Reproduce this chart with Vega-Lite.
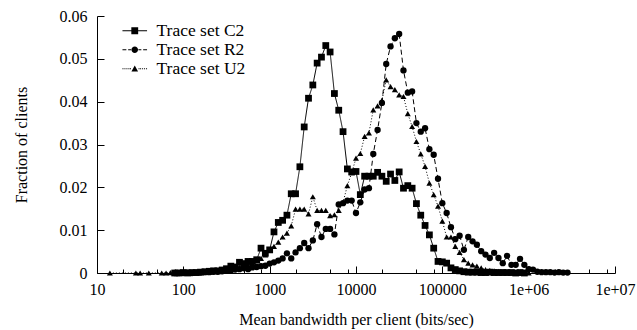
{
 "$schema": "https://vega.github.io/schema/vega-lite/v6.json",
 "width": 518, "height": 257,
 "autosize": {"type": "none"},
 "padding": {"left": 97, "top": 16, "right": 22, "bottom": 57},
 "background": "white",
 "config": {
  "view": {"stroke": null},
  "font": "Liberation Serif",
  "axis": {"labelFont": "Liberation Serif", "titleFont": "Liberation Serif", "labelFontSize": 16, "titleFontSize": 16, "titleFontWeight": "normal", "labelColor": "black", "titleColor": "black", "domainColor": "black", "tickColor": "black", "grid": false, "domainWidth": 1, "tickWidth": 1}
 },
 "data": {"values": [
  {"s":"C2","x":79.4,"y":0},{"s":"C2","x":89.1,"y":0},{"s":"C2","x":100,"y":0.0001},{"s":"C2","x":112,"y":0},{"s":"C2","x":126,"y":0.0001},{"s":"C2","x":141,"y":0.0001},{"s":"C2","x":158,"y":0.0002},{"s":"C2","x":178,"y":0.0003},{"s":"C2","x":200,"y":0.0004},{"s":"C2","x":224,"y":0.0005},{"s":"C2","x":251,"y":0.0005},{"s":"C2","x":282,"y":0.0007},{"s":"C2","x":316,"y":0.001},{"s":"C2","x":355,"y":0.0016},{"s":"C2","x":398,"y":0.0014},{"s":"C2","x":447,"y":0.0025},{"s":"C2","x":501,"y":0.0022},{"s":"C2","x":562,"y":0.0027},{"s":"C2","x":631,"y":0.0027},{"s":"C2","x":708,"y":0.0031},{"s":"C2","x":794,"y":0.0058},{"s":"C2","x":891,"y":0.0046},{"s":"C2","x":1000,"y":0.0054},{"s":"C2","x":1122,"y":0.0096},{"s":"C2","x":1259,"y":0.0118},{"s":"C2","x":1413,"y":0.0123},{"s":"C2","x":1585,"y":0.0135},{"s":"C2","x":1778,"y":0.0185},{"s":"C2","x":1995,"y":0.0185},{"s":"C2","x":2239,"y":0.0248},{"s":"C2","x":2512,"y":0.0341},{"s":"C2","x":2818,"y":0.0408},{"s":"C2","x":3162,"y":0.0439},{"s":"C2","x":3548,"y":0.049},{"s":"C2","x":3981,"y":0.0504},{"s":"C2","x":4467,"y":0.0531},{"s":"C2","x":5012,"y":0.0516},{"s":"C2","x":5623,"y":0.0419},{"s":"C2","x":6310,"y":0.038},{"s":"C2","x":7079,"y":0.033},{"s":"C2","x":7943,"y":0.0243},{"s":"C2","x":8913,"y":0.0236},{"s":"C2","x":10000,"y":0.0237},{"s":"C2","x":11220,"y":0.0183},{"s":"C2","x":12589,"y":0.0226},{"s":"C2","x":14125,"y":0.0226},{"s":"C2","x":15849,"y":0.0226},{"s":"C2","x":17783,"y":0.0235},{"s":"C2","x":19953,"y":0.0226},{"s":"C2","x":22387,"y":0.0214},{"s":"C2","x":25119,"y":0.0231},{"s":"C2","x":28184,"y":0.0216},{"s":"C2","x":31623,"y":0.0236},{"s":"C2","x":35481,"y":0.0198},{"s":"C2","x":39811,"y":0.0204},{"s":"C2","x":44668,"y":0.0198},{"s":"C2","x":50119,"y":0.0162},{"s":"C2","x":56234,"y":0.0135},{"s":"C2","x":63096,"y":0.0111},{"s":"C2","x":70795,"y":0.0089},{"s":"C2","x":79433,"y":0.0058},{"s":"C2","x":89125,"y":0.0027},{"s":"C2","x":100000,"y":0.0026},{"s":"C2","x":112202,"y":0.0023},{"s":"C2","x":125893,"y":0.0012},{"s":"C2","x":141254,"y":0.0008},{"s":"C2","x":158489,"y":0.0005},{"s":"C2","x":177828,"y":0.0003},{"s":"C2","x":199526,"y":0.0002},{"s":"C2","x":223872,"y":0.0002},{"s":"C2","x":251189,"y":0.0002},{"s":"C2","x":281838,"y":0.0001},{"s":"C2","x":316228,"y":0.0001},{"s":"C2","x":354813,"y":0.0002},{"s":"C2","x":398107,"y":0.0001},{"s":"C2","x":446684,"y":0.0001},{"s":"C2","x":501187,"y":0.0001},{"s":"C2","x":562341,"y":0.0001},{"s":"C2","x":630957,"y":0.0001},{"s":"C2","x":707946,"y":0},{"s":"C2","x":794328,"y":0.0001},{"s":"C2","x":891251,"y":0},
  {"s":"R2","x":79.4,"y":0},{"s":"R2","x":89.1,"y":0},{"s":"R2","x":100,"y":0},{"s":"R2","x":112,"y":0.0001},{"s":"R2","x":126,"y":0},{"s":"R2","x":141,"y":0.0001},{"s":"R2","x":158,"y":0.0001},{"s":"R2","x":178,"y":0.0002},{"s":"R2","x":200,"y":0.0002},{"s":"R2","x":224,"y":0.0003},{"s":"R2","x":251,"y":0.0003},{"s":"R2","x":282,"y":0.0004},{"s":"R2","x":316,"y":0.0005},{"s":"R2","x":355,"y":0.0006},{"s":"R2","x":398,"y":0.0008},{"s":"R2","x":447,"y":0.0009},{"s":"R2","x":501,"y":0.0011},{"s":"R2","x":562,"y":0.0009},{"s":"R2","x":631,"y":0.0013},{"s":"R2","x":708,"y":0.0014},{"s":"R2","x":794,"y":0.0016},{"s":"R2","x":891,"y":0.0017},{"s":"R2","x":1000,"y":0.0022},{"s":"R2","x":1122,"y":0.0025},{"s":"R2","x":1259,"y":0.0029},{"s":"R2","x":1413,"y":0.0034},{"s":"R2","x":1585,"y":0.0046},{"s":"R2","x":1778,"y":0.0034},{"s":"R2","x":1995,"y":0.0048},{"s":"R2","x":2239,"y":0.0058},{"s":"R2","x":2512,"y":0.007},{"s":"R2","x":2818,"y":0.0058},{"s":"R2","x":3162,"y":0.0076},{"s":"R2","x":3548,"y":0.0114},{"s":"R2","x":3981,"y":0.0084},{"s":"R2","x":4467,"y":0.0103},{"s":"R2","x":5012,"y":0.0103},{"s":"R2","x":5623,"y":0.009},{"s":"R2","x":6310,"y":0.016},{"s":"R2","x":7079,"y":0.0163},{"s":"R2","x":7943,"y":0.0169},{"s":"R2","x":8913,"y":0.0169},{"s":"R2","x":10000,"y":0.014},{"s":"R2","x":11220,"y":0.0165},{"s":"R2","x":12589,"y":0.0195},{"s":"R2","x":14125,"y":0.0198},{"s":"R2","x":15849,"y":0.0278},{"s":"R2","x":17783,"y":0.0334},{"s":"R2","x":19953,"y":0.0397},{"s":"R2","x":22387,"y":0.0488},{"s":"R2","x":25119,"y":0.0529},{"s":"R2","x":28184,"y":0.0548},{"s":"R2","x":31623,"y":0.0558},{"s":"R2","x":35481,"y":0.0473},{"s":"R2","x":39811,"y":0.0421},{"s":"R2","x":44668,"y":0.0424},{"s":"R2","x":50119,"y":0.035},{"s":"R2","x":56234,"y":0.033},{"s":"R2","x":63096,"y":0.0338},{"s":"R2","x":70795,"y":0.0289},{"s":"R2","x":79433,"y":0.0276},{"s":"R2","x":89125,"y":0.022},{"s":"R2","x":100000,"y":0.0163},{"s":"R2","x":112202,"y":0.014},{"s":"R2","x":125893,"y":0.0107},{"s":"R2","x":141254,"y":0.0079},{"s":"R2","x":158489,"y":0.0087},{"s":"R2","x":177828,"y":0.0054},{"s":"R2","x":199526,"y":0.0084},{"s":"R2","x":223872,"y":0.0074},{"s":"R2","x":251189,"y":0.0066},{"s":"R2","x":281838,"y":0.0051},{"s":"R2","x":316228,"y":0.0043},{"s":"R2","x":354813,"y":0.0035},{"s":"R2","x":398107,"y":0.0047},{"s":"R2","x":446684,"y":0.0035},{"s":"R2","x":501187,"y":0.0023},{"s":"R2","x":562341,"y":0.004},{"s":"R2","x":630957,"y":0.0019},{"s":"R2","x":707946,"y":0.0019},{"s":"R2","x":794328,"y":0.0033},{"s":"R2","x":891251,"y":0.0019},{"s":"R2","x":1000000,"y":0.0009},{"s":"R2","x":1122018,"y":0.0008},{"s":"R2","x":1258925,"y":0.0003},{"s":"R2","x":1412538,"y":0.0002},{"s":"R2","x":1584893,"y":0.0002},{"s":"R2","x":1778279,"y":0.0002},{"s":"R2","x":1995262,"y":0.0001},{"s":"R2","x":2238721,"y":0.0002},{"s":"R2","x":2511886,"y":0.0001},{"s":"R2","x":2818383,"y":0.0001},
  {"s":"U2","x":14.1,"y":0},{"s":"U2","x":28.2,"y":0},{"s":"U2","x":31.6,"y":0},{"s":"U2","x":39.8,"y":0},{"s":"U2","x":56.2,"y":0},{"s":"U2","x":63.1,"y":0},{"s":"U2","x":70.8,"y":0.0001},{"s":"U2","x":79.4,"y":0},{"s":"U2","x":89.1,"y":0.0001},{"s":"U2","x":100,"y":0.0001},{"s":"U2","x":112,"y":0.0001},{"s":"U2","x":126,"y":0.0001},{"s":"U2","x":141,"y":0.0002},{"s":"U2","x":158,"y":0.0002},{"s":"U2","x":178,"y":0.0003},{"s":"U2","x":200,"y":0.0003},{"s":"U2","x":224,"y":0.0004},{"s":"U2","x":251,"y":0.0005},{"s":"U2","x":282,"y":0.0006},{"s":"U2","x":316,"y":0.0008},{"s":"U2","x":355,"y":0.0009},{"s":"U2","x":398,"y":0.0011},{"s":"U2","x":447,"y":0.0013},{"s":"U2","x":501,"y":0.0016},{"s":"U2","x":562,"y":0.0019},{"s":"U2","x":631,"y":0.0023},{"s":"U2","x":708,"y":0.0028},{"s":"U2","x":794,"y":0.0034},{"s":"U2","x":891,"y":0.0042},{"s":"U2","x":1000,"y":0.0053},{"s":"U2","x":1122,"y":0.0062},{"s":"U2","x":1259,"y":0.0072},{"s":"U2","x":1413,"y":0.0084},{"s":"U2","x":1585,"y":0.0093},{"s":"U2","x":1778,"y":0.011},{"s":"U2","x":1995,"y":0.0149},{"s":"U2","x":2239,"y":0.0149},{"s":"U2","x":2512,"y":0.0149},{"s":"U2","x":2818,"y":0.0138},{"s":"U2","x":3162,"y":0.0178},{"s":"U2","x":3548,"y":0.0146},{"s":"U2","x":3981,"y":0.0146},{"s":"U2","x":4467,"y":0.0146},{"s":"U2","x":5012,"y":0.0134},{"s":"U2","x":5623,"y":0.0136},{"s":"U2","x":6310,"y":0.0146},{"s":"U2","x":7079,"y":0.0165},{"s":"U2","x":7943,"y":0.0204},{"s":"U2","x":8913,"y":0.0234},{"s":"U2","x":10000,"y":0.0268},{"s":"U2","x":11220,"y":0.0279},{"s":"U2","x":12589,"y":0.0319},{"s":"U2","x":14125,"y":0.0327},{"s":"U2","x":15849,"y":0.0381},{"s":"U2","x":17783,"y":0.039},{"s":"U2","x":19953,"y":0.0403},{"s":"U2","x":22387,"y":0.0451},{"s":"U2","x":25119,"y":0.0435},{"s":"U2","x":28184,"y":0.0428},{"s":"U2","x":31623,"y":0.0416},{"s":"U2","x":35481,"y":0.0412},{"s":"U2","x":39811,"y":0.0372},{"s":"U2","x":44668,"y":0.0342},{"s":"U2","x":50119,"y":0.0307},{"s":"U2","x":56234,"y":0.0278},{"s":"U2","x":63096,"y":0.0249},{"s":"U2","x":70795,"y":0.021},{"s":"U2","x":79433,"y":0.0183},{"s":"U2","x":89125,"y":0.0156},{"s":"U2","x":100000,"y":0.0121},{"s":"U2","x":112202,"y":0.0084},{"s":"U2","x":125893,"y":0.0084},{"s":"U2","x":141254,"y":0.0062},{"s":"U2","x":158489,"y":0.0048},{"s":"U2","x":177828,"y":0.0031},{"s":"U2","x":199526,"y":0.0023},{"s":"U2","x":223872,"y":0.0019},{"s":"U2","x":251189,"y":0.0016},{"s":"U2","x":281838,"y":0.0012},{"s":"U2","x":316228,"y":0.0008},{"s":"U2","x":354813,"y":0.0006},{"s":"U2","x":398107,"y":0.0005},{"s":"U2","x":446684,"y":0.0004},{"s":"U2","x":501187,"y":0.0003},{"s":"U2","x":562341,"y":0.0002},{"s":"U2","x":630957,"y":0.0002},{"s":"U2","x":707946,"y":0.0001},{"s":"U2","x":794328,"y":0.0001},{"s":"U2","x":891251,"y":0.0001},{"s":"U2","x":1000000,"y":0}
 ]},
 "encoding": {
  "x": {"field": "x", "type": "quantitative",
   "scale": {"type": "log", "domain": [10, 10000000], "nice": false},
   "axis": {"title": "Mean bandwidth per client (bits/sec)",
    "values": [10,20,50,80,100,200,500,800,1000,2000,5000,8000,10000,20000,50000,80000,100000,200000,500000,800000,1000000,2000000,5000000,8000000,10000000],
    "labelExpr": "abs(log(datum.value)/LN10 - round(log(datum.value)/LN10)) < 0.001 ? (datum.value >= 1000000 ? '1e+0' + round(log(datum.value)/LN10) : format(datum.value, 'd')) : ''",
    "tickSize": {"condition": {"test": "abs(log(datum.value)/LN10 - round(log(datum.value)/LN10)) < 0.001", "value": -7}, "value": -4},
    "labelPadding": 15, "labelOverlap": false, "labelFlush": false, "labelBound": false, "titlePadding": 11}},
  "y": {"field": "y", "type": "quantitative",
   "scale": {"domain": [0, 0.06], "nice": false},
   "axis": {"title": "Fraction of clients", "values": [0,0.01,0.02,0.03,0.04,0.05,0.06],
    "labelExpr": "datum.value == 0 ? '0' : format(datum.value, '.2f')",
    "tickSize": -7, "labelPadding": 17, "titlePadding": 30}}
 },
 "layer": [
  {"mark": {"type": "line", "color": "black", "strokeWidth": 1},
   "encoding": {
    "detail": {"field": "s", "type": "nominal"},
    "strokeDash": {"condition": [{"test": "datum.s == 'R2'", "value": [5,3]}, {"test": "datum.s == 'U2'", "value": [1,2]}], "value": [1,0]}}},
  {"mark": {"type": "point", "filled": true, "color": "black", "opacity": 1},
   "encoding": {
    "shape": {"condition": [{"test": "datum.s == 'C2'", "value": "square"}, {"test": "datum.s == 'R2'", "value": "circle"}], "value": "triangle-up"},
    "size": {"condition": [{"test": "datum.s == 'C2'", "value": 46}, {"test": "datum.s == 'R2'", "value": 40}], "value": 36}}},
  {"transform": [{"filter": "datum.x < 0"}],
   "mark": {"type": "point", "filled": true, "color": "black", "opacity": 1},
   "encoding": {
    "size": {"value": 144},
    "shape": {"field": "s", "type": "nominal",
     "scale": {"domain": ["C2","R2","U2"], "range": [
      "M-2.05,-0.085H2.05V0.085H-2.05Z M-0.57,-0.57H0.57V0.57H-0.57Z",
      "M-2.05,-0.085H-1.4V0.085H-2.05Z M-1.1,-0.085H-0.6V0.085H-1.1Z M0.6,-0.085H1.1V0.085H0.6Z M1.4,-0.085H2.05V0.085H1.4Z M-0.55,0A0.55,0.55,0,1,1,0.55,0A0.55,0.55,0,1,1,-0.55,0Z",
      "M-2.05,-0.085H-1.88V0.085H-2.05Z M-1.72,-0.085H-1.55V0.085H-1.72Z M-1.39,-0.085H-1.22V0.085H-1.39Z M-1.06,-0.085H-0.89V0.085H-1.06Z M-0.8,-0.085H-0.63V0.085H-0.8Z M0.63,-0.085H0.8V0.085H0.63Z M0.89,-0.085H1.06V0.085H0.89Z M1.22,-0.085H1.39V0.085H1.22Z M1.55,-0.085H1.72V0.085H1.55Z M1.88,-0.085H2.05V0.085H1.88Z M-0.55,0.45H0.55L0,-0.55Z"]},
     "legend": {"title": null, "orient": "none", "legendX": 29, "legendY": 6, "padding": 0,
      "labelExpr": "'Trace set ' + datum.label", "labelFont": "Liberation Serif", "labelFontSize": 17.5, "labelColor": "black",
      "symbolSize": 144, "symbolOpacity": 1, "symbolFillColor": "black", "symbolStrokeWidth": 0, "labelOffset": 13, "rowPadding": 0}}}}
 ]
}
